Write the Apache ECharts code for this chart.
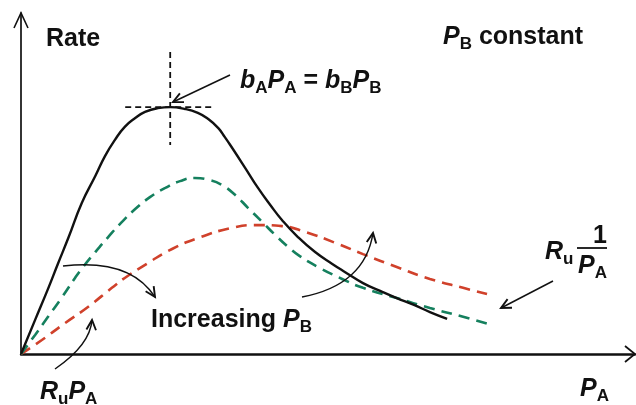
<!DOCTYPE html>
<html>
<head>
<meta charset="utf-8">
<script src="https://cdn.jsdelivr.net/npm/echarts@6/dist/echarts.min.js"></script>
<style>
  html, body { margin: 0; padding: 0; background: #fff; }
  #chart { width: 636px; height: 405px; }
</style>
</head>
<body>
<div id="chart"></div>
<script>
// Rate versus partial pressure of A (arbitrary units, both axes 0–100)
// Solid curve: reference P_B
const pA_solid   = [0, 2.3, 4.4, 6.0, 7.7, 9.9, 12.1, 13.7, 15.3, 16.9, 18.6, 20.2, 22.3, 24.3, 26.6, 28.8, 30.5, 32.1, 33.2, 34.4, 36.5, 38.6, 40.6, 42.5, 45.1, 47.9, 50.7, 52.8, 55.7, 58.5, 61.2, 64.0, 66.6, 69.4];
const rate_solid = [0, 10.0, 19.1, 26.4, 34.0, 44.3, 52.2, 58.1, 62.8, 66.6, 69.2, 71.0, 72.1, 72.4, 71.9, 70.7, 68.9, 66.3, 63.6, 60.4, 54.6, 48.7, 43.7, 39.3, 34.3, 29.9, 26.4, 24.0, 20.8, 18.5, 16.4, 14.4, 12.3, 10.3];

// Green dashed: higher P_B
const pA_green   = [0, 2.3, 4.4, 6.7, 8.8, 10.1, 12.1, 14.2, 16.1, 18.6, 21.0, 23.5, 25.9, 28.3, 30.8, 32.7, 34.9, 37.0, 39.3, 41.4, 43.5, 45.4, 48.4, 52.3, 55.7, 61.2, 66.6, 72.0, 76.1];
const rate_green = [0, 5.6, 10.9, 16.7, 22.3, 25.5, 29.9, 34.3, 38.1, 42.5, 46.0, 48.7, 50.7, 51.6, 51.0, 49.6, 46.6, 42.8, 38.7, 34.9, 31.4, 28.7, 25.5, 22.0, 19.4, 16.4, 13.5, 10.9, 8.8];

// Red dashed: highest P_B
const pA_red   = [0, 3.4, 7.2, 10.9, 14.8, 16.9, 20.7, 24.6, 28.8, 34.4, 38.6, 42.5, 46.3, 51.6, 55.7, 61.2, 66.6, 72.0, 75.9];
const rate_red = [0, 4.1, 9.1, 13.8, 19.4, 22.3, 26.7, 30.8, 34.0, 37.0, 37.8, 37.5, 35.8, 32.3, 29.3, 25.5, 22.0, 19.4, 17.6];

const zip = (xs, ys) => xs.map((x, i) => [x, ys[i]]);

const FONT = '"Liberation Sans", Arial, sans-serif';
const INK = '#111';
const rich = {
  v: { fontFamily: FONT, fontSize: 25, fontWeight: 'bold', fontStyle: 'italic', fill: INK },
  t: { fontFamily: FONT, fontSize: 25, fontWeight: 'bold', fill: INK },
  s: { fontFamily: FONT, fontSize: 17, fontWeight: 'bold', fill: INK, padding: [14, 0, 0, 0] }
};

const chart = echarts.init(document.getElementById('chart'), null, { renderer: 'canvas' });

const plainAxis = (lw) => ({
  type: 'value', min: 0, max: 100,
  axisLine: { show: true, onZero: false, lineStyle: { color: INK, width: lw } },
  axisTick: { show: false }, axisLabel: { show: false }, splitLine: { show: false }
});

chart.setOption({
  animation: false,
  backgroundColor: '#fff',
  grid: { left: 21, right: 1, top: 13, bottom: 51 },
  xAxis: plainAxis(2.5),
  yAxis: plainAxis(1.7),
  series: [
    { type: 'line', data: zip(pA_red, rate_red), smooth: 0.5, showSymbol: false,
      lineStyle: { color: '#d0412b', width: 2.6, type: [11, 7] }, z: 2 },
    { type: 'line', data: zip(pA_green, rate_green), smooth: 0.5, showSymbol: false,
      lineStyle: { color: '#15805e', width: 2.6, type: [11, 7] }, z: 3 },
    { type: 'line', data: zip(pA_solid, rate_solid), smooth: 0.5, showSymbol: false,
      lineStyle: { color: INK, width: 2.4 }, z: 4 }
  ]
});

// ---- annotations ----
function arrowHead(tip, from, len = 11, ang = 0.45) {
  const dx = from[0] - tip[0], dy = from[1] - tip[1];
  const d = Math.hypot(dx, dy), ux = dx / d, uy = dy / d;
  const arm = (a) => [tip[0] + len * (ux * Math.cos(a) - uy * Math.sin(a)),
                      tip[1] + len * (ux * Math.sin(a) + uy * Math.cos(a))];
  return { type: 'polyline', shape: { points: [arm(ang), tip, arm(-ang)] },
           style: { stroke: INK, lineWidth: 1.9, fill: null }, z: 20 };
}
function straightArrow(from, tip) {
  return [
    { type: 'line', shape: { x1: from[0], y1: from[1], x2: tip[0], y2: tip[1] },
      style: { stroke: INK, lineWidth: 1.5 }, z: 20 },
    arrowHead(tip, from)
  ];
}
function curvedArrow(from, cp, tip) {
  return [
    { type: 'bezierCurve', shape: { x1: from[0], y1: from[1], x2: tip[0], y2: tip[1], cpx1: cp[0], cpy1: cp[1] },
      style: { stroke: INK, lineWidth: 1.5, fill: null }, z: 20 },
    arrowHead(tip, cp)
  ];
}
function label(x, y, text) {
  return { type: 'text', x, y, z: 30,
           style: { text, rich, align: 'left', verticalAlign: 'top', fill: INK } };
}

// crosshair at the maximum of the solid curve
const iPeak = rate_solid.indexOf(Math.max(...rate_solid));
const peak = chart.convertToPixel({ gridIndex: 0 }, [pA_solid[iPeak], rate_solid[iPeak]]);
const dashed = { stroke: INK, lineWidth: 1.8, lineDash: [6, 4] };

const elements = [
  // axis arrowheads
  { type: 'polyline', shape: { points: [[14, 28], [21, 13], [28, 28]] },
    style: { stroke: INK, lineWidth: 1.6, fill: null } },
  { type: 'polyline', shape: { points: [[625, 346], [635, 354], [625, 362]] },
    style: { stroke: INK, lineWidth: 1.8, fill: null } },
  // crosshair
  { type: 'line', shape: { x1: peak[0], y1: peak[1] - 55, x2: peak[0], y2: peak[1] + 38 }, style: dashed, z: 10 },
  { type: 'line', shape: { x1: peak[0] - 45, y1: peak[1], x2: peak[0] + 43, y2: peak[1] }, style: dashed, z: 10 },
  ...straightArrow([230, 75], [173, 102]),
  ...straightArrow([553, 281], [501, 308]),
  ...curvedArrow([63, 266], [130, 258], [155, 297]),
  ...curvedArrow([302, 297], [365, 285], [373, 233]),
  ...curvedArrow([55, 369], [90, 345], [92, 320]),
  // texts
  label(46, 27, '{t|Rate}'),
  label(443, 22, '{v|P}{s|B}{t| constant}'),
  label(240, 66, '{v|b}{s|A}{v|P}{s|A}{t| = }{v|b}{s|B}{v|P}{s|B}'),
  label(151, 305, '{t|Increasing }{v|P}{s|B}'),
  label(40, 377, '{v|R}{s|u}{v|P}{s|A}'),
  label(580, 374, '{v|P}{s|A}'),
  label(545, 237, '{v|R}{s|u}'),
  label(593, 224, '{t|1}'),
  { type: 'line', shape: { x1: 577, y1: 248, x2: 607, y2: 248 }, style: { stroke: INK, lineWidth: 1.8 } },
  label(578, 251, '{v|P}{s|A}')
];

chart.setOption({ graphic: { elements } });
</script>
</body>
</html>
